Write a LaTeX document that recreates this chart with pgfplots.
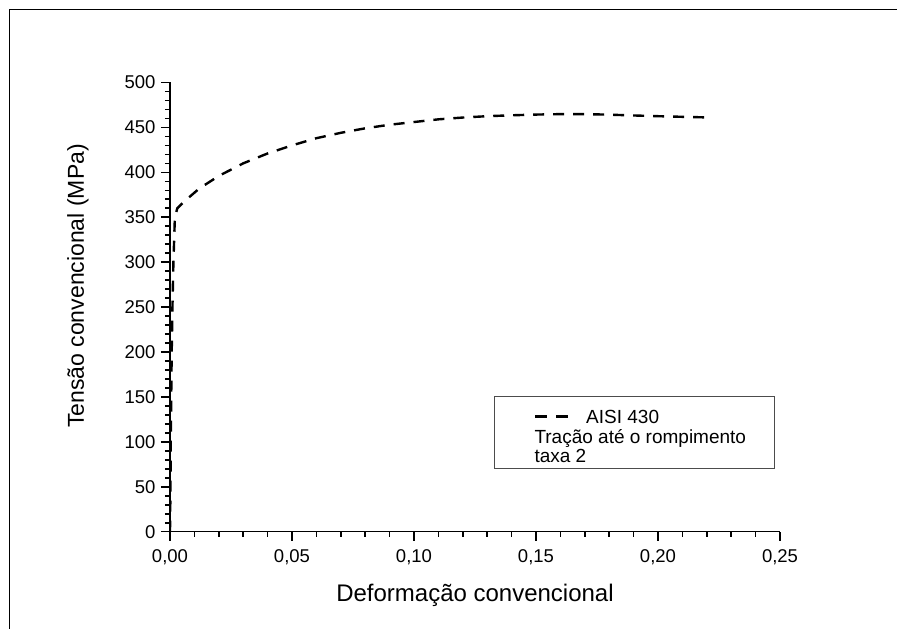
\documentclass[border=0pt]{standalone}
\usepackage{fontspec}
\setmainfont{Liberation Sans}
\usepackage{pgfplots}
\pgfplotsset{compat=1.18}

\pgfplotstableread{
x y
0.0000 0
0.0002 50
0.0003 100
0.0005 150
0.0007 200
0.0010 250
0.0014 300
0.0020 350
0.0030 360
0.0060 368
0.0120 382
0.0200 396
0.0300 410
0.0400 421
0.0500 430
0.0600 438
0.0700 444
0.0800 449
0.0900 453
0.1000 456
0.1100 459
0.1200 461
0.1300 462.5
0.1400 463.5
0.1500 464.3
0.1600 464.8
0.1700 464.8
0.1800 464.2
0.1900 463.3
0.2000 462.5
0.2100 461.8
0.2220 461
}\aisi

\begin{document}
\begin{tikzpicture}
\path[use as bounding box] (0pt,0pt) rectangle (897pt,629pt);
% moldura
\draw[line width=1.8pt] (9.5pt,0pt) -- (9.5pt,619.5pt) -- (897pt,619.5pt);

\begin{axis}[
    at={(170pt,97.3pt)}, anchor=south west,
    scale only axis, width=610pt, height=449.2pt,
    xmin=0, xmax=0.25, ymin=0, ymax=500,
    axis lines=left,
    axis line style={-, line width=1.6pt},
    xtick={0,0.05,...,0.25}, ytick={0,50,...,500},
    minor x tick num=4, minor y tick num=4,
    tick align=outside,
    major tick length=9pt, minor tick length=5pt,
    tick style={line width=1.6pt, black},
    scaled x ticks=false,
    xticklabel style={yshift=-5pt, /pgf/number format/.cd, fixed, fixed zerofill, precision=2, use comma},
    yticklabel style={xshift=-2pt},
    /pgf/number format/assume math mode=true,
    tick label style={font=\fontsize{18.5}{22}\selectfont},
    xlabel={Deformação convencional},
    ylabel={Tensão convencional (MPa)},
    xlabel style={font=\fontsize{24}{28}\selectfont, at={(axis description cs:0.5,-0.1565)}, anchor=base},
    ylabel style={font=\fontsize{23}{27}\selectfont, at={(axis description cs:-0.141,0.547)}, anchor=base},
  ]
  \addplot[black, line width=2.4pt, dash pattern=on 11pt off 9pt] table[x=x,y=y] {\aisi};
\end{axis}

% legenda
\draw[line width=0.9pt, black!70] (494.5pt,160.7pt) rectangle (774.5pt,232.3pt);
\draw[black, line width=2.4pt, dash pattern=on 12pt off 9pt] (535pt,212.3pt) -- (568pt,212.3pt);
\node[anchor=base west, inner sep=0pt, font=\fontsize{19}{22}\selectfont] at (586pt,205.7pt) {AISI 430};
\node[anchor=base west, inner sep=0pt, font=\fontsize{19}{22}\selectfont] at (534.3pt,185.7pt) {Tração até o rompimento};
\node[anchor=base west, inner sep=0pt, font=\fontsize{19}{22}\selectfont] at (534.3pt,166pt) {taxa 2};
\end{tikzpicture}
\end{document}
